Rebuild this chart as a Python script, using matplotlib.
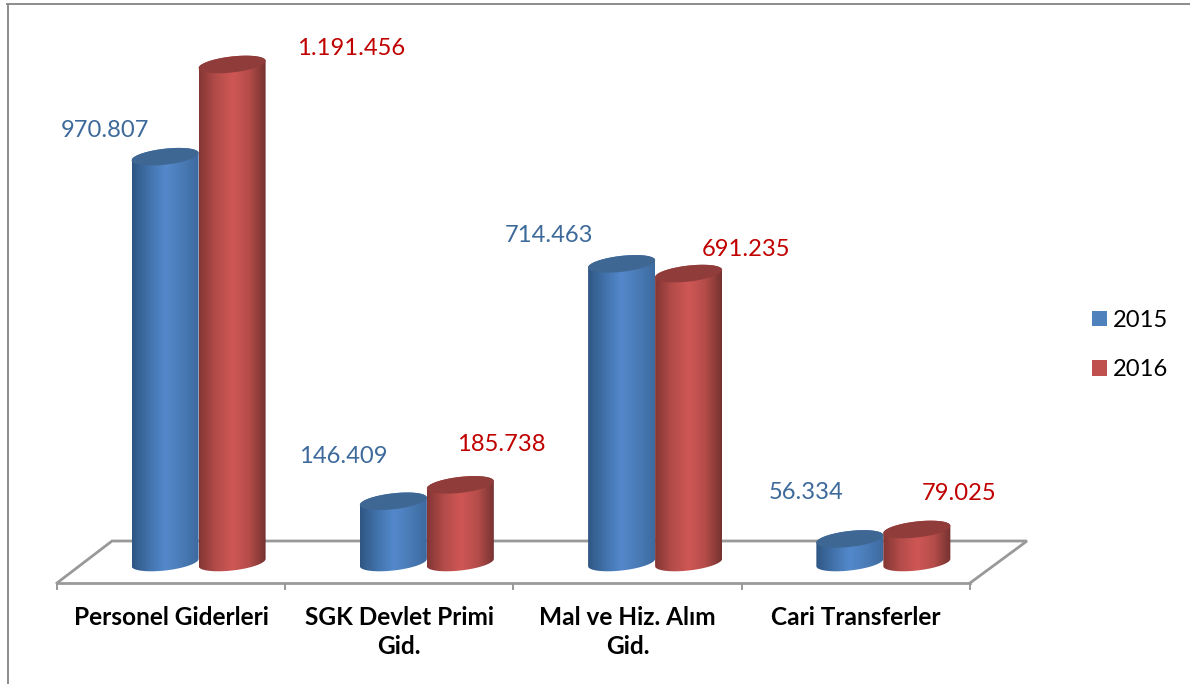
import numpy as np
import matplotlib
matplotlib.use("Agg")
import matplotlib.pyplot as plt
from matplotlib.colors import LinearSegmentedColormap
from matplotlib.lines import Line2D
from matplotlib.patches import Patch, PathPatch
from matplotlib.path import Path

# ---- data
categories = ["Personel Giderleri", "SGK Devlet Primi\nGid.", "Mal ve Hiz. Alım\nGid.", "Cari Transferler"]
years = ["2015", "2016"]
values_2015 = [970807, 146409, 714463, 56334]
values_2016 = [1191456, 185738, 691235, 79025]
labels_2015 = ["970.807", "146.409", "714.463", "56.334"]
labels_2016 = ["1.191.456", "185.738", "691.235", "79.025"]

# ---- layout / style (pixels of a 1190x684 canvas)
W, H = 1190, 684
PX_PER_VALUE = 0.000418
BASE_PX = 562.5
PX_PER_CAT = 228.25
CAT0_PX = 171.1
DEPTH_PX = 27.5
BAR_W_PX = 67
TILT = 3.7 / 34.0
B_PX = 8.0
offs_2015 = [(-60, 26), (-50, 45), (-73, 28), (-44, 46)]
offs_2016 = [(119, 16), (41, 40), (57, 24), (42, 36)]
FONT = "Lato"
LABEL_SIZE = 17.1
BLUE_GRAD = ["#2f5784", "#4272ab", "#5389cc", "#4a7bb6", "#3d6a9f"]
RED_GRAD = ["#843634", "#b34c49", "#cf5755", "#b54d4a", "#743230"]
BLUE_TOP, RED_TOP = "#3f6794", "#8f3c3a"
GRAY = "#999999"

fig = plt.figure(figsize=(W / 100, H / 100), dpi=100)
ax = fig.add_axes([0, 0, 1, 1])
ax.set_facecolor("white")

xlim = ((0 - CAT0_PX) / PX_PER_CAT, (W - CAT0_PX) / PX_PER_CAT)
ylim = ((BASE_PX - H) / PX_PER_VALUE, BASE_PX / PX_PER_VALUE)


def X(px):
    return (px - CAT0_PX) / PX_PER_CAT


def Y(py):
    return (BASE_PX - py) / PX_PER_VALUE


def cylinder(cat_pos, value, side, cmap, top_color, z):
    """Draw a tilted cylinder from zero up to value; side=-1 left of the centre, +1 right."""
    cx = cat_pos + (DEPTH_PX + side * BAR_W_PX / 2) / PX_PER_CAT
    a = BAR_W_PX / 2
    t = np.linspace(0, 2 * np.pi, 121)
    tt = np.linspace(0, np.pi, 61)
    top_x = a * np.cos(tt) / PX_PER_CAT
    top_y = (TILT * a * np.cos(tt) + B_PX * np.sin(tt)) / PX_PER_VALUE
    bot_x = a * np.cos(tt + np.pi) / PX_PER_CAT
    bot_y = (TILT * a * np.cos(tt + np.pi) + B_PX * np.sin(tt + np.pi)) / PX_PER_VALUE
    xs = np.r_[cx + top_x, cx + bot_x]
    ys = np.r_[value + top_y, bot_y]
    verts = np.c_[xs, ys]
    clip = PathPatch(Path(np.vstack([verts, verts[0]]), closed=True), transform=ax.transData,
                     fc="none", ec="none")
    ax.add_patch(clip)
    grad = np.linspace(0, 1, 128).reshape(1, -1)
    im = ax.imshow(grad, cmap=cmap, aspect="auto", zorder=z, interpolation="bilinear",
                   extent=[cx - a / PX_PER_CAT, cx + a / PX_PER_CAT,
                           -12 / PX_PER_VALUE, value + 12 / PX_PER_VALUE])
    im.set_clip_path(clip)
    ax.fill(cx + a * np.cos(t) / PX_PER_CAT,
            value + (TILT * a * np.cos(t) + B_PX * np.sin(t)) / PX_PER_VALUE,
            fc=top_color, ec="none", zorder=z + 0.1)
    return cx


# ---- floor, drawn behind the bars
back_y, front_y = Y(541), Y(583)
ax.plot([X(57), X(112), X(1027), X(970)], [front_y, back_y, back_y, front_y],
        color=GRAY, lw=2.0, zorder=1, solid_joinstyle="miter")

# ---- bars
cmap_blue = LinearSegmentedColormap.from_list("b", BLUE_GRAD)
cmap_red = LinearSegmentedColormap.from_list("r", RED_GRAD)
for i, (v15, v16) in enumerate(zip(values_2015, values_2016)):
    cylinder(i, v15, -1, cmap_blue, BLUE_TOP, 2 + i)
    cylinder(i, v16, 1, cmap_red, RED_TOP, 2.5 + i)
    ax.annotate(labels_2015[i], (i + (DEPTH_PX - BAR_W_PX / 2) / PX_PER_CAT, v15),
                xytext=offs_2015[i], textcoords="offset pixels", ha="center", va="center",
                fontsize=LABEL_SIZE, family=FONT, color="#3d6a9a", zorder=10)
    ax.annotate(labels_2016[i], (i + (DEPTH_PX + BAR_W_PX / 2) / PX_PER_CAT, v16),
                xytext=offs_2016[i], textcoords="offset pixels", ha="center", va="center",
                fontsize=LABEL_SIZE, family=FONT, color="#c00000", zorder=10)

ax.set_xlim(xlim)
ax.set_ylim(ylim)

# ---- axis: front edge of the floor, ticks between categories, labels under categories
for s in ("left", "right", "top"):
    ax.spines[s].set_visible(False)
ax.spines["bottom"].set_position(("data", front_y))
ax.spines["bottom"].set_bounds(-0.5, len(categories) - 0.5)
ax.spines["bottom"].set_color(GRAY)
ax.spines["bottom"].set_linewidth(2.0)
ax.yaxis.set_visible(False)
ax.set_xticks(np.arange(len(categories) + 1) - 0.5)
ax.set_xticklabels([])
ax.tick_params(axis="x", which="major", length=5, width=1.4, color=GRAY)
ax.set_xticks(np.arange(len(categories)), minor=True)
ax.set_xticklabels(categories, minor=True, fontsize=17.6, fontweight="bold", family=FONT,
                   color="black", linespacing=1.3)
ax.tick_params(axis="x", which="minor", length=0, pad=16.5)

# ---- legend
handles = [Patch(fc="#4f81bd", ec="none"), Patch(fc="#c0504d", ec="none")]
leg = ax.legend(handles, years, loc="center left", frameon=False,
                prop={"family": FONT, "size": LABEL_SIZE}, handlelength=0.63, handleheight=0.63,
                handletextpad=0.26, labelspacing=1.2, borderpad=0, borderaxespad=0)
leg.set_bbox_to_anchor((X(1092), Y(345)), transform=ax.transData)

# ---- outer frame of the picture
fig.add_artist(Line2D([7.5 / W, 7.5 / W], [0, 1 - 3.5 / H], color="#8c8c8c", lw=1.4))
fig.add_artist(Line2D([7 / W, 1], [1 - 3.5 / H, 1 - 3.5 / H], color="#8c8c8c", lw=1.4))

fig.savefig("out.png", dpi=100, facecolor="white")
